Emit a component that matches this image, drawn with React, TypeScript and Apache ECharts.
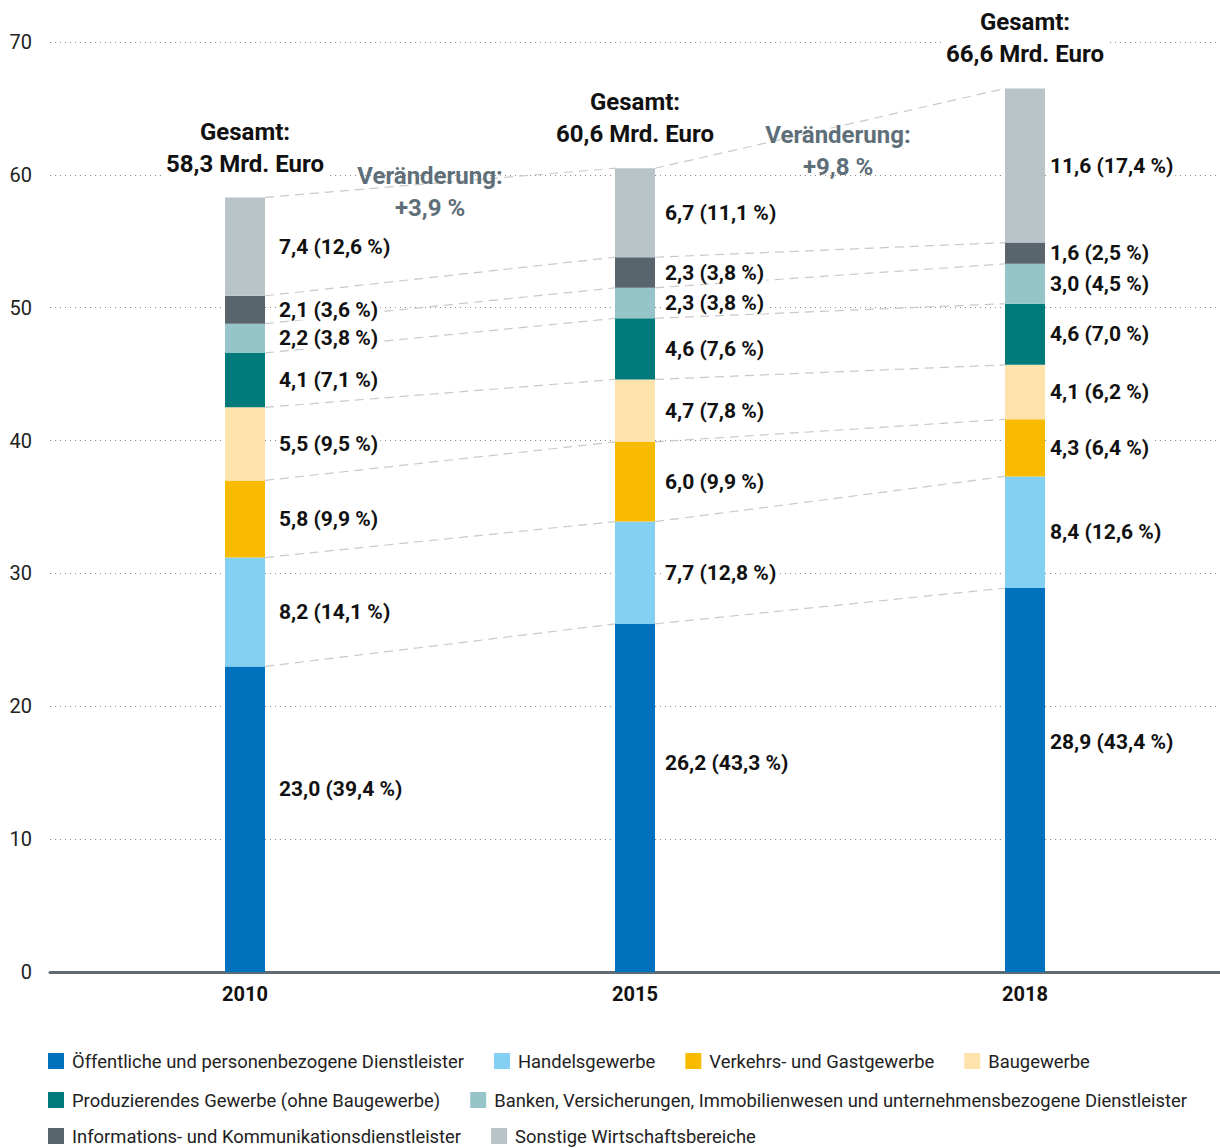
import React, { useEffect, useRef } from "react";
import * as echarts from "echarts";

const years = ["2010", "2015", "2018"];
const seriesNames = [
  "Öffentliche und personenbezogene Dienstleister",
  "Handelsgewerbe",
  "Verkehrs- und Gastgewerbe",
  "Baugewerbe",
  "Produzierendes Gewerbe (ohne Baugewerbe)",
  "Banken, Versicherungen, Immobilienwesen und unternehmensbezogene Dienstleister",
  "Informations- und Kommunikationsdienstleister",
  "Sonstige Wirtschaftsbereiche",
];
const colors = ["#0071BC", "#84D0F3", "#F9BB00", "#FFE3AD", "#007A7B", "#95C5C8", "#58656C", "#B9C4C9"];

// values per series: [2010, 2015, 2018]
const oeffentliche = [23.0, 26.2, 28.9];
const handel = [8.2, 7.7, 8.4];
const verkehr = [5.8, 6.0, 4.3];
const bau = [5.5, 4.7, 4.1];
const produzierend = [4.1, 4.6, 4.6];
const banken = [2.2, 2.3, 3.0];
const information = [2.1, 2.3, 1.6];
const sonstige = [7.4, 6.7, 11.6];

// shares in percent
const oeffentlichePct = [39.4, 43.3, 43.4];
const handelPct = [14.1, 12.8, 12.6];
const verkehrPct = [9.9, 9.9, 6.4];
const bauPct = [9.5, 7.8, 6.2];
const produzierendPct = [7.1, 7.6, 7.0];
const bankenPct = [3.8, 3.8, 4.5];
const informationPct = [3.6, 3.8, 2.5];
const sonstigePct = [12.6, 11.1, 17.4];

const totals = [58.3, 60.6, 66.6];
const changes = ["+3,9 %", "+9,8 %"];

const yTicks = { min: 0, max: 70, interval: 10 };

const values = [oeffentliche, handel, verkehr, bau, produzierend, banken, information, sonstige];
const pcts = [oeffentlichePct, handelPct, verkehrPct, bauPct, produzierendPct, bankenPct, informationPct, sonstigePct];

const fmt = (v: number) => v.toFixed(1).replace(".", ",");

const FONT = "Roboto, 'Noto Sans', sans-serif";
const BAR_W = 40;
const LABEL_GAP = [12, 8, 3]; // label distance from bar per year (style)

export default function App() {
  const ref = useRef<HTMLDivElement>(null);
  useEffect(() => {
    document.body.style.margin = "0";
    const chart = echarts.init(ref.current!, undefined, { renderer: "svg" });

    // cumulative tops per year per level
    const cum: number[][] = years.map((_, yi) => {
      let s = 0;
      return values.map((arr) => {
        s += arr[yi];
        return s;
      });
    });

    const lineData: number[][] = [];
    for (let p = 0; p < years.length - 1; p++) {
      for (let k = 0; k < values.length; k++) {
        lineData.push([p, cum[p][k], k]);
      }
    }

    const barSeries = values.map((arr, si) => ({
      name: seriesNames[si],
      type: "bar",
      stack: "total",
      barWidth: BAR_W,
      itemStyle: { color: colors[si] },
      data: arr.map((v, i) => ({
        value: v,
        label:
          si === 0
            ? { offset: [LABEL_GAP[i], 0] }
            : { distance: LABEL_GAP[i] },
      })),
      z: 3,
      label: {
        show: true,
        position: si === 0 ? ["100%", "40%"] : "right",
        align: "left",
        verticalAlign: "middle",
        fontFamily: FONT,
        fontSize: 21,
        fontWeight: "bold",
        color: "#111",
        backgroundColor: "#fff",
        padding: [0, 2],
        formatter: (p: any) => `${fmt(p.value)} (${fmt(pcts[si][p.dataIndex])} %)`,
      },
    }));

    const legendRow = (names: string[], top: number) => ({
      data: names,
      left: 48,
      top,
      padding: 0,
      itemGap: 30,
      itemWidth: 16,
      itemHeight: 16,
      icon: "rect",
      selectedMode: false,
      textStyle: { fontFamily: FONT, fontSize: 18.4, color: "#222", padding: [0, 0, 0, 3] },
    });

    const changeText = (i: number, x: number, y: number) => ({
      type: "text",
      x,
      y,
      z: 10,
      style: {
        text: `Veränderung:\n${changes[i]}`,
        align: "center",
        verticalAlign: "top",
        fontFamily: FONT,
        fontSize: 24,
        fontWeight: "bold",
        lineHeight: 32,
        fill: "#5F6F79",
      },
    });

    chart.setOption({
      animation: false,
      grid: { left: 50, right: 0, top: 42, bottom: 176 },
      legend: [
        legendRow(seriesNames.slice(0, 4), 1052),
        legendRow(seriesNames.slice(4, 6), 1091),
        legendRow(seriesNames.slice(6, 8), 1127),
      ],
      xAxis: {
        type: "category",
        data: years,
        axisTick: { show: false },
        axisLine: { lineStyle: { color: "#5F6B73", width: 3 } },
        axisLabel: { fontFamily: FONT, fontSize: 20, fontWeight: "bold", color: "#111", margin: 12 },
      },
      yAxis: {
        type: "value",
        min: yTicks.min,
        max: yTicks.max,
        interval: yTicks.interval,
        axisLine: { show: false },
        axisTick: { show: false },
        axisLabel: { fontFamily: FONT, fontSize: 20, color: "#222", margin: 18 },
        splitLine: { lineStyle: { color: "#8a8a8a", type: [1, 4], width: 1 } },
      },
      series: [
        {
          type: "custom",
          z: 1,
          silent: true,
          data: lineData,
          renderItem: (params: any, api: any) => {
            const p = api.value(0);
            const k = api.value(2);
            const a = api.coord([p, cum[p][k]]);
            const b = api.coord([p + 1, cum[p + 1][k]]);
            return {
              type: "line",
              shape: { x1: a[0] + BAR_W / 2, y1: a[1], x2: b[0] - BAR_W / 2, y2: b[1] },
              style: { stroke: "#c9c9c9", lineWidth: 1.2, lineDash: [9, 6] },
            };
          },
        },
        ...barSeries,
        {
          type: "scatter",
          symbolSize: 0,
          z: 5,
          itemStyle: { opacity: 1 },
          data: totals.map((t, i) => [i, t]),
          label: {
            show: true,
            position: "top",
            distance: 17,
            align: "center",
            fontFamily: FONT,
            fontSize: 24,
            fontWeight: "bold",
            color: "#111",
            opacity: 1,
            lineHeight: 32,
            backgroundColor: "#fff",
            padding: [0, 2],
            formatter: (p: any) => `Gesamt:\n${fmt(p.value[1])} Mrd. Euro`,
          },
        },
      ],
      graphic: [changeText(0, 430, 160), changeText(1, 838, 119)],
    });
    return () => chart.dispose();
  }, []);
  return <div ref={ref} style={{ width: 1220, height: 1148 }} />;
}
